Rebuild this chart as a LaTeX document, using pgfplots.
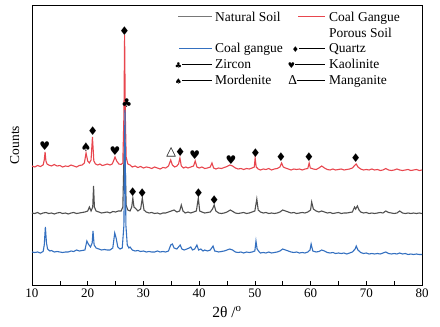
\documentclass[border=0pt]{standalone}
\usepackage{pgfplots}
\pgfplotsset{compat=1.18}
\usepackage{fontspec}
\setmainfont{Liberation Serif}
\newfontfamily\symf{DejaVu Sans}
\definecolor{cgred}{RGB}{232,70,78}
\definecolor{cgblue}{RGB}{52,112,192}
\definecolor{cggray}{RGB}{80,80,80}
\definecolor{leggray}{RGB}{120,120,120}
\begin{document}
\begin{tikzpicture}
\begin{axis}[name=ax,
  scale only axis, width=390pt, height=280pt,
  xmin=10, xmax=80, ymin=0, ymax=280,
  xtick={10,20,...,80}, minor x tick num=1,
  ytick=\empty,
  tick align=inside, xtick pos=bottom,
  major tick length=4pt, minor tick length=4pt,
  axis line style={line width=0.9pt},
  every tick/.style={black, line width=0.7pt},
  /pgf/number format/assume math mode=true,
  ticklabel style={font=\fontsize{13}{15}\selectfont},
  xlabel={2θ /\textsuperscript{o}},
  xlabel style={font=\fontsize{15.5}{17}\selectfont, yshift=-2pt},
  ylabel={Counts},
  ylabel style={font=\fontsize{13.5}{15}\selectfont, at={(axis description cs:-0.044,0.5)}, anchor=center},
  clip=false,
]
% Natural soil
\addplot[color=cggray, line width=1.1pt] coordinates {
(10,72)(10.5,71.5)(11,72.5)(11.5,71)(12,72)(12.5,72.5)(13,71.5)(13.5,72)(14,71)(14.5,72)(15,72.5)(15.5,71.5)(16,72)(16.5,71)(17,72)(17.5,72.5)(18,71.5)(18.5,72)(19,72.5)(19.5,73)(20,74)(20.3,78)(20.6,74)(20.9,78)(21.05,99)(21.2,78)(21.5,74)(22,73)(22.5,72)(23,72.5)(23.5,73)(24,72)(24.5,73.5)(25,73)(25.5,74)(26,74)(26.3,78)(26.6,150)(26.9,80)(27.2,75)(27.6,74)(27.9,78)(28.1,87)(28.3,78)(28.7,76)(29,74)(29.5,76)(29.8,87)(30.1,75)(30.5,73)(31,72)(31.5,72.5)(32,71.5)(32.5,72)(33,71)(33.5,72)(34,72)(34.5,73)(35,74)(35.5,75)(36,73)(36.5,74)(36.8,80)(37.1,74)(37.5,72)(38,73)(38.5,72)(39,73)(39.5,74)(39.85,87)(40.1,74)(40.5,73)(41,72)(41.5,72.5)(42,73)(42.4,76)(42.7,80)(43,74)(43.5,72)(44,71.5)(44.5,72)(45,73)(45.6,75)(46.2,73)(46.5,72)(47,71.5)(47.5,72)(48,72.5)(48.5,71.5)(49,72)(49.5,73)(50,74)(50.35,86)(50.6,75)(51,73)(51.5,72)(52,72.5)(52.5,71.5)(53,72)(53.5,71.5)(54,72)(54.5,73)(55,75)(55.5,74)(56,73)(56.5,72)(57,72.5)(57.5,71.5)(58,72)(58.5,72.5)(59,72)(59.5,73)(60,75)(60.2,83)(60.5,76)(61,74)(61.5,73)(62,74)(62.5,73)(63,72)(63.5,72.5)(64,71.5)(64.5,72)(65,72.5)(65.5,71.5)(66,72)(66.5,72)(67,72.5)(67.5,73)(67.9,78)(68.1,76)(68.4,79)(68.7,75)(69,73)(69.5,72)(70,72.5)(70.5,71.5)(71,72)(71.5,71.5)(72,72)(72.5,72.5)(73,72)(73.5,74)(74,72.5)(74.5,72)(75,71.5)(75.5,72)(76,74)(76.5,72)(77,71.5)(77.5,72)(78,71.5)(78.5,72)(79,71.5)(79.5,72)(80,71.5)
};
% Coal gangue porous soil
\addplot[color=cgred, line width=1.1pt] coordinates {
(10,119)(10.5,118)(11,119.5)(11.5,118.5)(12,120)(12.2,125)(12.35,133)(12.5,124)(12.7,121)(13,120)(13.5,119)(14,120.5)(14.5,119)(15,119.5)(15.5,118)(16,119)(16.5,118.5)(17,120)(17.5,119)(18,118)(18.5,119.5)(19,120)(19.4,122)(19.7,132)(20,124)(20.3,122)(20.6,125)(20.85,148)(21.1,124)(21.4,121)(21.8,120)(22.2,121)(22.6,119.5)(23,120)(23.5,121)(24,120)(24.4,121)(24.7,125)(24.9,128)(25.2,124)(25.6,121)(26,120.5)(26.3,122)(26.5,170)(26.62,250)(26.75,170)(26.9,128)(27.2,121)(27.6,120)(28,118)(28.5,119)(29,117.5)(29.5,118.5)(30,117)(30.5,118)(31,117.5)(31.5,116.5)(32,118)(32.5,117)(33,116)(33.5,117.5)(34,117)(34.5,119)(34.9,125)(35.2,120)(35.6,118)(36,119)(36.3,121)(36.55,127)(36.8,119)(37.2,117)(37.6,118)(38,117)(38.5,118)(39,119)(39.3,124)(39.6,118)(40,117)(40.5,118)(41,116.5)(41.5,117)(42,118)(42.3,122)(42.6,117)(43,116)(43.5,117)(44,116.5)(44.5,117.5)(45,118.5)(45.5,120)(46,119)(46.5,117)(47,116)(47.5,116.5)(48,115.5)(48.5,116.5)(49,116)(49.5,117)(49.9,118)(50.05,127)(50.25,118)(50.6,116)(51,115)(51.5,116)(52,115.5)(52.5,116.5)(53,115)(53.5,116)(54,116.5)(54.5,118)(54.8,122)(55.1,118)(55.5,117)(56,116)(56.5,115)(57,116)(57.5,115.5)(58,116)(58.5,115)(59,116)(59.5,116.5)(59.75,122)(59.95,117)(60.5,116)(61,115.5)(61.5,117)(62,119)(62.5,117)(63,115.5)(63.5,115)(64,116)(64.5,115)(65,115.5)(65.5,116)(66,115)(66.5,115.5)(67,116)(67.5,117)(68,120)(68.2,121)(68.5,118)(69,116)(69.5,115)(70,115.5)(70.5,115)(71,116)(71.5,115)(72,115.5)(72.5,114.5)(73,115)(73.5,116.5)(74,115)(74.5,114.5)(75,115)(75.5,116)(76,115)(76.5,114.5)(77,115)(77.5,115.5)(78,114.5)(78.5,115)(79,115.5)(79.5,114.5)(80,115)
};
% Coal gangue
\addplot[color=cgblue, line width=1.1pt] coordinates {
(10,33)(10.5,32.5)(11,33)(11.5,32)(12,33.5)(12.2,40)(12.4,58)(12.6,42)(12.8,36)(13.2,34)(13.5,34.5)(14,33)(14.5,33.5)(15,33)(15.5,32.5)(16,33)(16.5,33)(17,34)(17.5,33.5)(18,35)(18.5,34)(19,34.5)(19.5,35)(19.85,44)(20.1,41)(20.5,38)(20.8,42)(20.95,54)(21.15,40)(21.5,37)(22,36)(22.5,35)(23,35.5)(23.5,35)(24,35)(24.5,37)(24.85,52)(25.1,47)(25.4,38)(25.8,36)(26.2,37)(26.5,60)(26.68,175)(26.85,60)(27.1,40)(27.4,37)(27.6,38)(28,35)(28.5,34)(29,34.5)(29.5,33.5)(30,34)(30.5,33)(31,33.5)(31.5,33)(32,33)(32.5,34)(33,33)(33.5,33.5)(34,33)(34.5,34)(34.9,40)(35.2,41)(35.5,37)(36,36)(36.3,38)(36.6,40)(36.9,36)(37.3,35)(37.8,36)(38.2,37)(38.5,38)(38.8,35)(39.2,36)(39.6,40)(39.9,35)(40.3,36)(40.7,34)(41,35)(41.5,34)(42,35)(42.5,39)(42.8,34)(43.2,33.5)(43.5,33)(44,33.5)(44.5,34)(45,35)(45.5,36)(46,35)(46.5,33)(47,32.5)(47.5,33)(48,32)(48.5,33)(49,32.5)(49.5,33)(50,34)(50.2,44)(50.4,36)(50.8,33)(51,32)(51.5,32.5)(52,32)(52.5,33)(53,32)(53.5,32.5)(54,33)(54.5,34)(55,36)(55.5,35)(56,34)(56.5,33)(57,32.5)(57.5,33)(58,32)(58.5,32.5)(59,32)(59.5,33)(59.9,35)(60.1,41)(60.4,34)(61,33)(61.5,33.5)(62,35)(62.5,34)(63,32.5)(63.5,32)(64,32.5)(64.5,31.5)(65,32)(65.5,31.5)(66,32)(66.5,31)(67,32)(67.5,33)(68,36)(68.2,39)(68.5,35)(69,32.5)(69.5,31.5)(70,32)(70.5,31)(71,31.5)(71.5,31)(72,31.5)(72.5,31)(73,32)(73.5,33)(74,31.5)(74.5,31)(75,31.5)(75.5,31)(76,32)(76.5,31)(77,31.5)(77.5,30.5)(78,31)(78.5,30.5)(79,31)(79.5,30.5)(80,30.5)
};
% phase markers
\addplot[only marks, mark=text, text mark={\symf\fontsize{12}{12}\selectfont ♦}, text mark as node=true] coordinates {
(20.9,154)(26.6,254)(36.6,133)(50.1,132)(54.7,128)(59.7,128)(68.1,127)
(28.1,93)(29.8,92)(39.9,92)(42.7,85)
};
\addplot[only marks, mark=text, text mark={\symf\fontsize{12}{12}\selectfont ♥}, text mark as node=true] coordinates {
(12.3,139)(24.9,134)(39.2,130)(45.7,125)
};
\addplot[only marks, mark=text, text mark={\symf\fontsize{12}{12}\selectfont ♠}, text mark as node=true] coordinates {
(19.7,138)
};
\addplot[only marks, mark=text, text mark={\symf\fontsize{12.5}{12.5}\selectfont △}, text mark as node=true] coordinates {
(35.0,133)
};
\addplot[only marks, mark=text, text mark={\symf\fontsize{12}{12}\selectfont ♣}, text mark as node=true] coordinates {
(27.0,182)
};
\node[anchor=north west, inner sep=0pt, font=\fontsize{13.5}{15.75}\selectfont] at (axis description cs:0.366,0.982) {%
\begin{tabular}{@{}r@{\hspace{3pt}}l@{\hspace{5pt}}r@{\hspace{4pt}}l@{}}
\textcolor{leggray}{\rule[0.3em]{34pt}{0.9pt}} & Natural Soil & \textcolor{cgred}{\rule[0.3em]{27pt}{0.9pt}} & Coal Gangue\\
 & & & Porous Soil\\
\textcolor{cgblue}{\rule[0.3em]{33pt}{0.9pt}} & Coal gangue & {\symf\fontsize{8}{8}\selectfont ♦}\rule[0.3em]{26pt}{0.7pt} & Quartz\\
{\symf\fontsize{8}{8}\selectfont ♣}\rule[0.3em]{30pt}{0.7pt} & Zircon & {\symf\fontsize{8}{8}\selectfont ♥}\rule[0.3em]{30pt}{0.7pt} & Kaolinite\\
{\symf\fontsize{8}{8}\selectfont ♠}\rule[0.3em]{30pt}{0.7pt} & Mordenite & Δ\rule[0.3em]{28pt}{0.7pt} & Manganite
\end{tabular}};
\end{axis}
\pgfresetboundingbox
\path ([shift={(-32pt,-41pt)}]ax.south west) rectangle ([shift={(18pt,5pt)}]ax.north east);
\end{tikzpicture}
\end{document}
